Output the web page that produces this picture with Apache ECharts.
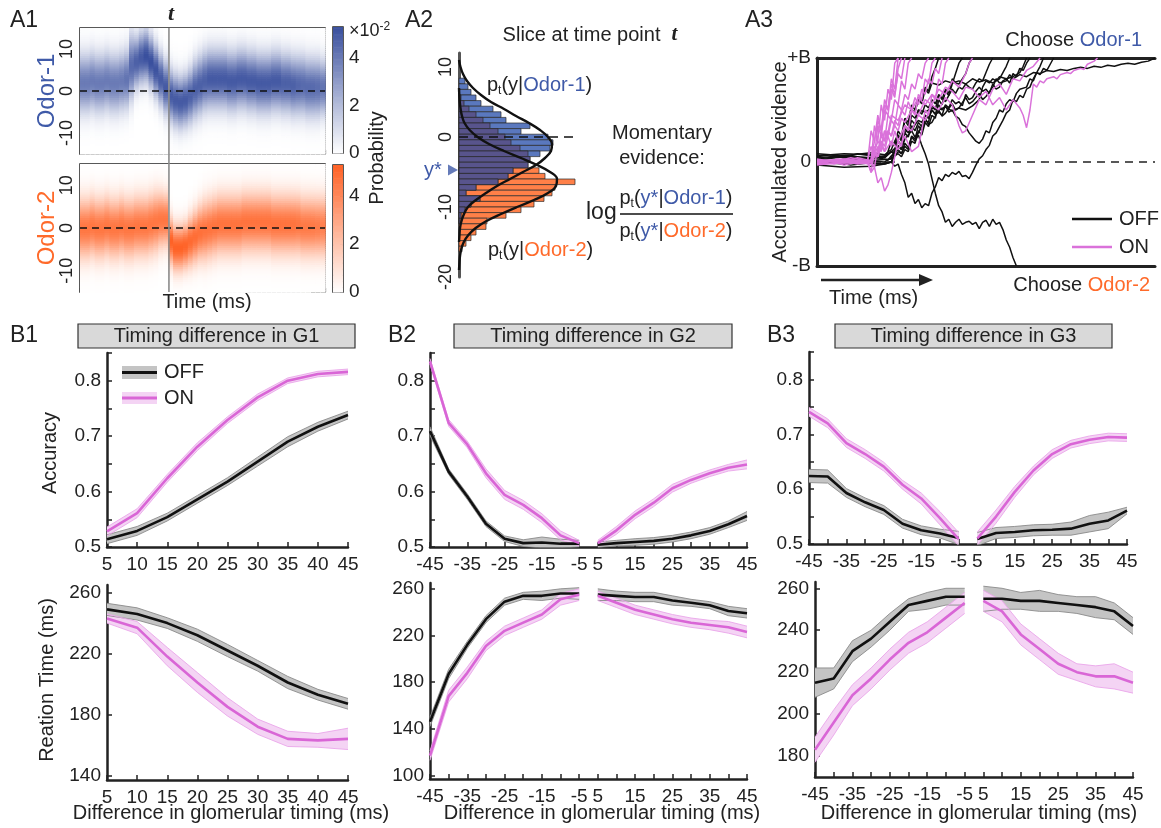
<!DOCTYPE html>
<html><head><meta charset="utf-8">
<script src="https://cdn.jsdelivr.net/npm/echarts@6.0.0/dist/echarts.min.js"></script>
<style>html,body{margin:0;padding:0;background:#fff;}#chart{width:1161px;height:828px;}</style>
</head><body><div id="chart"></div>
<script>
// ================= DATA =================
// A1: per time column (2 ms wide, 50 columns) read centre / spread / peak of the density bands
const a1Center1 = [2,2,2.5,2,2,2.5,2,2,2.5,3, 6,7,8,8.5,7,5,3,1,-1,-2, -2.5,-2,-1,0.5,1.5,2.5,3,3,3,3, 2.5,2.5,3,3,2.5,2.5,2,2,2,2.5, 2.5,2,2,1.5,1.5,1.5,1,1,1,1];
const a1Spread1 = [4.5,4.5,4.5,4.5,4.5,4.5,4.5,4.5,4.5,4.5, 5,4,4,4,4,4,4,4,4,4, 4,4,4.2,4.4,4.5,4.5,4.5,4.5,4.5,4.5, 4.5,4.5,4.5,4.5,4.5,4.5,4.5,4.5,4.5,4.5, 4.5,4.5,4.5,4.5,4.5,4.5,4.5,4.5,4.5,4.2];
const a1Peak1   = [4,4,4,4,4,4,4,4,4,4.2, 4.5,4.8,5,5.3,5.3,5.2,5,5,5,5, 5,5,4.8,4.8,4.8,4.8,5,5,5,5, 5,5,5,5,5,5,5,5,5,5, 5,4.8,4.8,4.8,4.6,4.5,4.5,4.5,4.4,4.2];
const a1Center2 = [0,0,0.5,0,0,0.5,0,0,0.5,0, 0,0.5,0.5,0.5,1,1.5,2,2,-3,-4.5, -4.5,-4,-3,-2,-1,-0.5,0,0.5,1,1, 1,1,1,1.5,1.5,1.5,1.5,1.5,1.5,1, 1,1,1,1,1,0.5,0.5,0.5,0.5,0.5];
const a1Spread2 = [4.5,4.5,4.5,4.5,4.5,4.5,4.5,4.5,4.5,4.5, 4.5,4.5,4.5,4.5,4.5,4.5,4.2,4,3.5,3.5, 3.5,3.5,3.8,4,4.2,4.5,4.5,4.5,4.5,4.5, 4.5,4.5,4.5,4.5,4.5,4.5,4.5,4.5,4.5,4.5, 4.5,4.5,4.5,4.5,4.5,4.5,4.5,4.5,4.5,4.5];
const a1Peak2   = [4.6,4.6,4.6,4.6,4.6,4.6,4.6,4.6,4.6,4.6, 4.6,4.6,4.6,4.6,4.6,4.6,4.6,4.6,5.3,5.3, 5.3,5.2,5,4.9,4.8,4.7,4.7,4.7,4.7,4.7, 4.7,4.7,4.7,4.7,4.7,4.7,4.7,4.7,4.7,4.7, 4.7,4.7,4.7,4.7,4.6,4.5,4.5,4.5,4.4,4.3];
const a1TimePoint = 36.3;
const a1YTicks = [-10, 0, 10];
const a1CbTicks = [0, 2, 4];
const a1CbMax = 5.3;

// A2: histogram bins (centre of each bin) and bar lengths, fitted curves
const a2Bins = [8.0,7.2,6.4,5.6,4.8,4.0,3.2,2.4,1.6,0.8,0.0,-0.8,-1.6,-2.4,-3.2,-4.0,-4.8,-5.6,-6.4,-7.2,-8.0,-8.8,-9.6,-10.4,-11.2,-12.0,-12.8,-13.6,-14.4,-15.2,-16.0];
const a2Odor1 = [6,9,12,17,22,34,42,47,71,62,89,94,91,81,71,69,54,49,39,17,7,21,12,6,2,1,0,0,0,0,0];
const a2Odor2 = [0,0,0,0,0,0,0,0,0,0,0,0,0,0,0,0,80,86,116,96,93,85,75,62,47,28,27,17,12,7,3];
const a2Overlap = [0,0,0,2,5,10,17,24,31,39,46,52,61,69,71,69,54,49,39,17,7,21,12,6,2,1,0,0,0,0,0];
const a2CurveY = [11,10,9,8,7,6,5,4,3,2,1,0,-1,-2,-3,-4,-5,-6,-7,-8,-9,-10,-11,-12,-13,-14,-15,-16,-17,-18,-19];
const a2Fit1 = [0,1.5,4,8,14,22,32,45,57,70,81,89,93,92,86,77,64,51,38,27,17,9,5,2.5,1,0.5,0,0,0,0,0];
const a2Fit2 = [0,0,0,0,0,0.3,0.8,1.6,3,5.5,10.6,18.6,30,45,62,78,91,98,97,89,75,58,42,27.5,16.7,9.4,4.8,2.3,1,0.4,0];
const a2YStar = -4.7;
const a2YTicks = [-20, -10, 0, 10];

// A3: accumulated-evidence traces [time, evidence/B]
const a3Off = [
 [[0,0.05],[4,0.07],[8,0.04],[12,0.08],[16,0.06],[20,0.04],[22,0.1],[24,0.16],[25,0.12],[26,0.22],[28,0.3],[29,0.24],[30,0.28],[32,0.42],[33,0.36],[34,0.38],[36,0.5],[37,0.44],[38,0.47],[40,0.56],[41,0.5],[42,0.52],[44,0.62],[45,0.56],[46,0.58],[48,0.66],[49,0.6],[50,0.63],[52,0.72],[53,0.8],[54,0.76],[56,0.78],[57,0.84],[58,0.8],[60,0.84],[62,0.82],[64,0.86],[66,0.85],[68,0.88],[70,0.87],[72,0.89],[74,0.88],[76,0.9],[78,0.91],[80,0.9],[82,0.92],[84,0.91],[86,0.93],[88,0.92],[90,0.94],[92,0.95],[94,0.94],[96,0.96],[98,0.97],[100,1]],
 [[0,-0.02],[5,0.0],[10,-0.03],[15,-0.01],[20,-0.02],[22,0.0],[23,-0.04],[24,-0.02],[25,-0.12],[26,-0.2],[27,-0.34],[28,-0.3],[29,-0.4],[30,-0.36],[31,-0.44],[32,-0.4],[33,-0.42],[34,-0.3],[35,-0.24],[36,-0.15],[37,-0.18],[38,-0.12],[39,-0.14],[40,-0.1],[41,-0.12],[42,-0.09],[43,-0.14],[44,-0.13],[45,-0.16],[46,-0.1],[47,-0.03],[48,0.03],[49,0.06],[50,0.12],[51,0.16],[52,0.25],[53,0.28],[54,0.34],[55,0.4],[56,0.47],[57,0.5],[58,0.6],[59,0.58],[60,0.64],[61,0.62],[62,0.7],[63,0.72],[64,0.8],[65,0.86],[66,0.92],[67,1]],
 [[0,0.03],[6,0.05],[12,0.02],[18,0.04],[21,0.02],[22,0.06],[24,0.12],[25,0.08],[26,0.18],[27,0.14],[28,0.24],[29,0.2],[30,0.26],[31,0.16],[32,0.08],[33,-0.02],[34,-0.16],[35,-0.3],[36,-0.42],[37,-0.48],[38,-0.58],[39,-0.55],[40,-0.62],[41,-0.58],[42,-0.55],[43,-0.6],[44,-0.58],[45,-0.57],[46,-0.6],[47,-0.58],[48,-0.64],[49,-0.58],[50,-0.56],[51,-0.62],[52,-0.55],[53,-0.6],[54,-0.58],[55,-0.65],[56,-0.75],[57,-0.82],[58,-0.92],[59,-1]],
 [[0,0.02],[8,0.05],[16,0.03],[20,0.06],[22,0.1],[23,0.08],[24,0.2],[25,0.16],[26,0.28],[27,0.24],[28,0.35],[29,0.3],[30,0.38],[31,0.34],[32,0.45],[33,0.42],[34,0.5],[35,0.46],[36,0.55],[37,0.5],[38,0.54],[39,0.48],[40,0.5],[41,0.44],[42,0.42],[43,0.36],[44,0.34],[45,0.28],[46,0.24],[47,0.2],[48,0.18],[49,0.22],[50,0.3],[51,0.28],[52,0.38],[53,0.42],[54,0.5],[55,0.48],[56,0.56],[57,0.6],[58,0.58],[59,0.66],[60,0.7],[62,0.72],[63,0.8],[64,0.78],[65,0.86],[66,0.84],[67,0.9],[68,0.88],[69,0.94],[70,1]],
 [[0,0.04],[8,0.06],[16,0.04],[20,0.05],[21,0.1],[22,0.2],[23,0.16],[24,0.3],[25,0.25],[26,0.42],[27,0.38],[28,0.55],[29,0.5],[30,0.62],[31,0.58],[32,0.72],[33,0.68],[34,0.82],[35,0.9],[36,1]],
 [[0,0.0],[8,-0.02],[16,0.01],[20,0.0],[22,0.04],[23,0.12],[24,0.2],[25,0.16],[26,0.32],[27,0.28],[28,0.4],[29,0.36],[30,0.5],[31,0.46],[32,0.55],[33,0.52],[34,0.6],[35,0.56],[36,0.64],[37,0.62],[38,0.58],[39,0.64],[40,0.7],[41,0.66],[42,0.72],[43,0.7],[44,0.75],[45,0.72],[46,0.7],[47,0.76],[48,0.8],[49,0.78],[50,0.86],[51,0.94],[52,1]],
 [[0,0.06],[8,0.08],[16,0.07],[20,0.05],[22,0.1],[23,0.08],[24,0.15],[25,0.12],[26,0.28],[27,0.32],[28,0.3],[29,0.36],[30,0.4],[31,0.38],[32,0.45],[33,0.42],[34,0.5],[35,0.46],[36,0.48],[37,0.45],[38,0.55],[39,0.52],[40,0.6],[41,0.56],[42,0.58],[43,0.54],[44,0.65],[45,0.6],[46,0.62],[47,0.68],[48,0.72],[49,0.68],[50,0.7],[51,0.66],[52,0.75],[53,0.7],[54,0.72],[55,0.78],[56,0.8],[57,0.76],[58,0.85],[59,0.82],[60,0.9],[61,0.88],[62,0.95],[63,1]],
 [[0,-0.03],[8,-0.05],[16,-0.04],[20,-0.02],[22,0.0],[23,0.06],[24,0.1],[25,0.08],[26,0.15],[27,0.12],[28,0.25],[29,0.22],[30,0.35],[31,0.3],[32,0.4],[33,0.38],[34,0.55],[35,0.5],[36,0.65],[37,0.6],[38,0.7],[39,0.66],[40,0.8],[41,0.76],[42,0.75],[43,0.8],[44,0.85],[45,0.95],[46,1]],
 [[0,0.02],[10,0.0],[18,0.02],[22,0.03],[23,0.06],[24,0.08],[25,0.05],[26,0.12],[27,0.1],[28,0.2],[29,0.18],[30,0.3],[31,0.26],[32,0.38],[33,0.34],[34,0.45],[35,0.42],[36,0.6],[37,0.55],[38,0.68],[39,0.64],[40,0.75],[41,0.85],[42,0.95],[43,1]],
 [[0,0.08],[8,0.06],[16,0.09],[20,0.07],[22,0.12],[23,0.2],[24,0.26],[25,0.22],[26,0.35],[27,0.3],[28,0.45],[29,0.42],[30,0.5],[32,0.48],[34,0.52],[36,0.5],[38,0.53],[40,0.49],[42,0.52],[44,0.5],[46,0.54],[48,0.6],[49,0.72],[50,0.78],[51,0.76],[52,0.8],[53,0.78],[54,0.82],[56,0.8],[58,0.82],[60,0.86],[61,0.92],[62,1]],
 [[0,-0.01],[10,0.01],[18,-0.02],[22,0.0],[23,0.1],[24,0.25],[25,0.2],[26,0.4],[27,0.35],[28,0.5],[29,0.48],[30,0.6],[31,0.56],[32,0.7],[33,0.66],[34,0.76],[36,0.74],[38,0.78],[40,0.76],[42,0.78],[44,0.75],[46,0.8],[48,0.77],[50,0.79],[52,0.76],[54,0.8],[55,0.86],[56,0.92],[57,1]]
];
const a3On = [
 [[0,0.02],[3,0.0],[6,0.03],[9,0.01],[12,0.04],[15,0.02],[16,0.15],[17,0.05],[18,0.35],[19,0.25],[20,0.5],[21,0.45],[22,0.7],[23,0.62],[24,0.9],[25,1]],
 [[0,-0.02],[4,0.01],[8,-0.03],[12,0.0],[15,0.02],[16,-0.1],[17,0.1],[18,0.05],[19,0.3],[20,0.2],[21,0.45],[22,0.4],[23,0.6],[24,0.55],[25,0.78],[26,0.7],[27,0.95],[28,1]],
 [[0,0.01],[5,-0.02],[10,0.02],[15,-0.01],[16,-0.1],[17,-0.05],[18,-0.2],[19,-0.15],[20,-0.28],[21,-0.22],[22,-0.1],[23,0.05],[24,0.2],[25,0.15],[26,0.35],[27,0.3],[28,0.5],[29,0.45],[30,0.65],[31,0.6],[32,0.8],[33,0.75],[34,0.95],[35,1]],
 [[0,0.03],[5,0.0],[10,0.04],[15,0.01],[16,0.3],[17,0.2],[18,0.45],[19,0.3],[20,0.55],[21,0.5],[22,0.75],[23,0.65],[24,0.85],[25,0.8],[26,1]],
 [[0,-0.01],[6,0.02],[12,-0.02],[16,0.0],[17,0.15],[18,0.1],[19,0.2],[20,0.15],[21,0.3],[22,0.25],[23,0.4],[24,0.35],[25,0.5],[26,0.45],[27,0.58],[28,0.5],[29,0.62],[30,0.55],[31,0.7],[32,0.65],[33,0.8],[34,0.75],[35,0.9],[36,0.85],[37,1]],
 [[0,0.0],[8,0.02],[16,0.01],[17,0.1],[18,0.2],[19,0.15],[20,0.3],[21,0.28],[22,0.45],[24,0.4],[26,0.55],[28,0.5],[30,0.62],[32,0.55],[34,0.65],[36,0.6],[38,0.72],[40,0.68],[42,0.6],[44,0.72],[46,0.7],[48,0.62],[50,0.68],[52,0.55],[54,0.62],[56,0.5],[58,0.6],[60,0.52],[61,0.45],[62,0.33],[63,0.5],[64,0.75],[65,0.72],[66,0.78],[67,0.76],[68,0.8],[70,0.82],[71,0.8],[72,0.84],[74,0.86],[75,0.85],[76,0.88],[78,0.9],[79,0.89],[80,0.94],[82,0.97],[83,1]],
 [[0,0.02],[8,-0.01],[16,0.02],[17,0.2],[18,0.4],[19,0.3],[20,0.6],[21,0.5],[22,0.8],[23,0.7],[24,1]],
 [[0,-0.03],[8,0.0],[16,-0.02],[17,0.05],[18,0.1],[19,0.25],[20,0.2],[21,0.3],[22,0.25],[23,0.35],[24,0.3],[25,0.42],[26,0.38],[28,0.5],[30,0.45],[32,0.6],[34,0.55],[36,0.7],[38,0.65],[40,0.78],[42,0.72],[44,0.85],[45,0.95],[46,1]],
 [[0,0.01],[8,0.03],[16,0.0],[17,0.1],[18,0.05],[19,0.2],[20,0.1],[21,0.25],[22,0.15],[23,0.3],[24,0.2],[26,0.35],[28,0.3],[30,0.45],[32,0.4],[34,0.55],[36,0.5],[38,0.62],[40,0.55],[42,0.35],[43,0.28],[44,0.3],[46,0.45],[48,0.6],[50,0.55],[52,0.7],[54,0.75],[56,0.65],[58,0.8],[60,0.78],[62,0.88],[64,0.92],[66,1]],
 [[0,0.0],[16,0.01],[17,0.35],[18,0.2],[19,0.55],[20,0.4],[21,0.7],[22,0.6],[23,0.95],[24,1]],
 [[0,0.02],[16,0.0],[17,-0.05],[18,0.15],[19,0.1],[20,0.3],[21,0.25],[22,0.4],[23,0.35],[24,0.55],[25,0.5],[26,0.65],[27,0.6],[28,0.75],[29,0.7],[30,0.85],[31,0.8],[32,0.95],[33,1]],
 [[0,-0.02],[16,0.0],[17,0.1],[18,0.05],[19,0.15],[20,0.1],[22,0.2],[24,0.12],[26,0.25],[28,0.1],[30,0.15],[31,0.3],[32,0.5],[33,0.45],[34,0.65],[35,0.6],[36,0.8],[37,0.75],[38,0.95],[39,1]]
];
const a3YTicks = [-1, 0, 1];

// B panels
const b1X = ['5','10','15','20','25','30','35','40','45'];
const b1AccOff = [0.514,0.529,0.554,0.586,0.618,0.654,0.690,0.717,0.738];
const b1AccOffErr = [0.008,0.008,0.007,0.007,0.007,0.008,0.009,0.008,0.007];
const b1AccOn = [0.528,0.561,0.624,0.681,0.729,0.770,0.800,0.812,0.816];
const b1AccOnErr = [0.008,0.008,0.007,0.007,0.006,0.006,0.005,0.005,0.005];
const b1RtOff = [249,246,240,232,222,212,201,193,187];
const b1RtOffErr = [4,4,3.5,4,4,3.5,4,3.5,3.5];
const b1RtOn = [243,237,218,201,185,172,164,163,164];
const b1RtOnErr = [3,4,6,6.5,6,5,5,4.5,7];

const b23X = ['-45','-40','-35','-30','-25','-20','-15','-10','-5','5','10','15','20','25','30','35','40','45'];
const b2AccOff = [0.709,0.636,0.591,0.542,0.515,0.507,0.508,0.506,0.506, 0.504,0.507,0.509,0.511,0.515,0.521,0.529,0.541,0.556];
const b2AccOffErr = [0.008,0.005,0.005,0.005,0.005,0.006,0.01,0.008,0.006, 0.005,0.005,0.006,0.006,0.006,0.006,0.006,0.006,0.008];
const b2AccOn = [0.835,0.724,0.685,0.633,0.594,0.576,0.552,0.521,0.507, 0.507,0.530,0.558,0.580,0.606,0.621,0.633,0.643,0.649];
const b2AccOnErr = [0.005,0.006,0.006,0.008,0.008,0.008,0.008,0.008,0.005, 0.005,0.007,0.007,0.007,0.007,0.006,0.006,0.006,0.008];
const b2RtOff = [146,187,212,234,249,254,254,256,256, 255,254,253,253,250,248,246,241,239];
const b2RtOffErr = [4,4,3,3,3,3,4,4,5, 5,4,4,4,4,3,3,4,4];
const b2RtOn = [117,168,188,211,224,231,238,251,255, 254,248,242,238,234,231,229,227,223];
const b2RtOnErr = [4,5,5,4,4,4,4,5,5, 4,4,4,4,4,4,4,5,5];
const b3AccOff = [0.624,0.623,0.593,0.576,0.562,0.537,0.525,0.519,0.511, 0.509,0.520,0.522,0.525,0.526,0.528,0.537,0.543,0.561];
const b3AccOffErr = [0.012,0.012,0.008,0.008,0.008,0.008,0.008,0.008,0.012, 0.012,0.01,0.01,0.01,0.01,0.012,0.015,0.015,0.006];
const b3AccOn = [0.741,0.720,0.684,0.664,0.641,0.608,0.583,0.547,0.509, 0.510,0.550,0.595,0.634,0.664,0.682,0.690,0.695,0.694];
const b3AccOnErr = [0.008,0.008,0.008,0.008,0.008,0.008,0.01,0.012,0.012, 0.012,0.012,0.01,0.008,0.008,0.007,0.007,0.007,0.007];
const b3RtOff = [215,217,230,236,244,252,254,256,256, 255,255,254,254,253,252,251,249,242];
const b3RtOffErr = [7,5,5,4,4,3,4,4,4, 6,5,4,5,4,4,5,4,4];
const b3RtOn = [183,196,209,217,226,234,239,246,253, 254,249,238,231,224,220,218,218,215];
const b3RtOnErr = [6,6,5,5,5,5,5,5,5, 5,5,5,5,5,4,5,6,5];

const accTicks = [0.5,0.55,0.6,0.65,0.7,0.75,0.8,0.85];
const accLabels = [0.5,0.6,0.7,0.8];
const b1RtTicks = [140,180,220,260];
const b2RtTicks = [100,140,180,220,260];
const b3RtTicks = [180,200,220,240,260];

// ================= STYLE =================
const FONT = '"Liberation Sans", Arial, Helvetica, sans-serif';
const SERIF = '"Liberation Serif", "DejaVu Serif", serif';
const TXT = '#222';
const BLUE = '#3f5aa8', ORANGE = '#ff6a2a', MAG = '#d966d6', OFFC = '#111';
const BLUE_RGB = [58,80,158], ORANGE_RGB = [255,98,38];

const grids = [], xAxes = [], yAxes = [], series = [], graphics = [];
function addGrid(l,t,w,h,border){ grids.push({left:l, top:t, width:w, height:h, show:!!border, borderColor:'#222', borderWidth:border||0, backgroundColor:'transparent'}); return grids.length-1; }
function addX(c){ xAxes.push(c); return xAxes.length-1; }
function addY(c){ yAxes.push(c); return yAxes.length-1; }
function hiddenAxis(g,min,max){ return {type:'value', gridIndex:g, min, max, show:false, splitLine:{show:false}}; }
function cmap(rgb,f){ f=Math.max(0,Math.min(1,f)); return 'rgb('+rgb.map(v=>Math.round(255+(v-255)*f)).join(',')+')'; }

// ---------- A1 ----------
function heatData(center, spread, peak){
  const d=[];
  for(let c=0;c<center.length;c++){
    for(let r=0;r<60;r++){
      const y0=-15+0.5*r, ym=y0+0.25;
      const v=peak[c]*Math.exp(-Math.pow(ym-center[c],2)/(2*spread[c]*spread[c]));
      d.push([c*2, c*2+2, y0, y0+0.5, v]);
    }
  }
  return d;
}
function heatItem(rgb){
  return function(p, api){
    const a=api.coord([api.value(0), api.value(3)]);
    const b=api.coord([api.value(1), api.value(2)]);
    return {type:'rect', shape:{x:a[0], y:a[1], width:b[0]-a[0]+0.7, height:b[1]-a[1]+0.7}, style:{fill:cmap(rgb, api.value(4)/a1CbMax)}};
  };
}
function a1Panel(top, h, center, spread, peak, rgb, cbTop, cbH){
  const g = addGrid(80, top, 245, h, 1.5);
  const xi = addX({type:'value', gridIndex:g, min:0, max:100, interval:20, axisLine:{show:false, onZero:false}, axisLabel:{show:false}, axisTick:{show:true, inside:true, length:4, lineStyle:{color:'#222', width:1.2}}, splitLine:{show:false}});
  const yi = addY({type:'value', gridIndex:g, min:-15, max:15, axisLine:{show:false, onZero:false}, axisTick:{show:true, inside:true, length:4, customValues:a1YTicks, lineStyle:{color:'#222', width:1.2}}, axisLabel:{customValues:a1YTicks, rotate:90, fontSize:18, color:TXT, margin:4, fontFamily:FONT}, splitLine:{show:false}});
  series.push({type:'custom', xAxisIndex:xi, yAxisIndex:yi, silent:true, z:1, dimensions:['t0','t1','y0','y1','p'], encode:{x:[0,1], y:[2,3]}, renderItem:heatItem(rgb), data:heatData(center, spread, peak)});
  series.push({type:'line', xAxisIndex:xi, yAxisIndex:yi, silent:true, z:3, symbol:'none', data:[[0,0],[100,0]], lineStyle:{color:'#111', width:1.6, type:[7,5]}});
  // colour bar
  const gc = addGrid(333, cbTop, 10, cbH, 1.5);
  const cx = addX(hiddenAxis(gc,0,1));
  const cy = addY({type:'value', gridIndex:gc, position:'right', min:0, max:a1CbMax, axisLine:{show:false, onZero:false}, axisTick:{show:true, inside:true, length:3, customValues:a1CbTicks, lineStyle:{color:'#222'}}, axisLabel:{customValues:a1CbTicks, fontSize:19, color:TXT, margin:6, fontFamily:FONT}, splitLine:{show:false}});
  const lv=[]; for(let i=0;i<106;i++){ lv.push([i*0.05, i*0.05+0.05]); }
  series.push({type:'custom', xAxisIndex:cx, yAxisIndex:cy, silent:true, dimensions:['lo','hi'], encode:{y:[0,1]}, data:lv, renderItem:function(p,api){ const a=api.coord([0,api.value(1)]), b=api.coord([1,api.value(0)]); return {type:'rect', shape:{x:a[0], y:a[1], width:b[0]-a[0], height:b[1]-a[1]+0.6}, style:{fill:cmap(rgb,(api.value(0)+0.025)/a1CbMax)}}; }});
}
a1Panel(28, 126, a1Center1, a1Spread1, a1Peak1, BLUE_RGB, 27, 126);
a1Panel(164, 128, a1Center2, a1Spread2, a1Peak2, ORANGE_RGB, 165, 127);
// t marker spanning both heat maps
{
  const g = addGrid(80, 28, 245, 264, 0);
  const xi = addX(hiddenAxis(g,0,100)), yi = addY(hiddenAxis(g,0,1));
  series.push({type:'line', xAxisIndex:xi, yAxisIndex:yi, silent:true, z:5, symbol:'none', data:[[a1TimePoint,0],[a1TimePoint,1]], lineStyle:{color:'#8c8c8c', width:1.6}});
}

// ---------- A2 ----------
const A2_BW = 0.8;
{
  const g = addGrid(459, 53, 131, 224, 0);
  const xi = addX({type:'value', gridIndex:g, min:0, max:131, show:false, splitLine:{show:false}});
  const yi = addY({type:'value', gridIndex:g, min:-20, max:12, axisLine:{show:true, onZero:false, lineStyle:{color:'#555', width:3}}, axisTick:{show:false}, axisLabel:{customValues:a2YTicks, rotate:90, fontSize:18, color:TXT, margin:4, fontFamily:FONT}, splitLine:{show:false}});
  function barSeries(vals, fill){
    series.push({type:'custom', xAxisIndex:xi, yAxisIndex:yi, silent:true, z:2, dimensions:['len','bin'], encode:{x:0, y:1},
      data: vals.map((v,i)=>[v, a2Bins[i]]),
      renderItem:function(p,api){ const len=api.value(0), c=api.value(1); if(!(len>0)) return null;
        const a=api.coord([0, c+A2_BW/2]), b=api.coord([len, c-A2_BW/2]);
        return {type:'rect', shape:{x:a[0], y:a[1], width:b[0]-a[0], height:b[1]-a[1]}, style:{fill, stroke:'#2a2a2a', lineWidth:0.7}}; }});
  }
  barSeries(a2Odor2, '#ff8048');
  barSeries(a2Odor1, '#5a78be');
  barSeries(a2Overlap, '#58548c');
  function curve(vals){
    const d=[]; vals.forEach((v,i)=>{ if(v>0 || (i>0 && vals[i-1]>0) || (i<vals.length-1 && vals[i+1]>0)) d.push([v, a2CurveY[i]]); });
    series.push({type:'line', xAxisIndex:xi, yAxisIndex:yi, silent:true, z:4, symbol:'none', smooth:0.4, data:d, lineStyle:{color:'#111', width:2.4}});
  }
  curve(a2Fit1); curve(a2Fit2);
  series.push({type:'line', xAxisIndex:xi, yAxisIndex:yi, silent:true, z:5, symbol:'none', data:[[0,0],[114,0]], lineStyle:{color:'#111', width:1.6, type:[9,6]}});
  series.push({type:'scatter', xAxisIndex:xi, yAxisIndex:yi, silent:true, clip:false, z:6, symbol:'triangle', symbolSize:[11,10], symbolRotate:-90, data:[[-6, a2YStar]], itemStyle:{color:BLUE}});
}

// ---------- A3 ----------
{
  const g = addGrid(817, 58, 338, 208, 0);
  const lineAx = {show:true, onZero:false, lineStyle:{color:'#222', width:3}};
  const xi = addX({type:'value', gridIndex:g, min:0, max:100, position:'bottom', axisLine:lineAx, axisTick:{show:false}, axisLabel:{show:false}, splitLine:{show:false}});
  addX({type:'value', gridIndex:g, min:0, max:100, position:'top', axisLine:lineAx, axisTick:{show:false}, axisLabel:{show:false}, splitLine:{show:false}});
  const yi = addY({type:'value', gridIndex:g, min:-1, max:1, axisLine:lineAx, axisTick:{show:false}, axisLabel:{customValues:a3YTicks, fontSize:19, color:TXT, margin:6, fontFamily:FONT, formatter:function(v){ return v>0?'+B':(v<0?'-B':'0'); }}, splitLine:{show:false}});
  series.push({type:'line', xAxisIndex:xi, yAxisIndex:yi, silent:true, z:1, symbol:'none', data:[[0,0],[100,0]], lineStyle:{color:'#222', width:1.6, type:[8,6]}});
  a3Off.forEach(tr=>series.push({type:'line', xAxisIndex:xi, yAxisIndex:yi, silent:true, z:2, symbol:'none', data:tr, lineStyle:{color:OFFC, width:1.5}}));
  a3On.forEach(tr=>series.push({type:'line', xAxisIndex:xi, yAxisIndex:yi, silent:true, z:3, symbol:'none', data:tr, lineStyle:{color:'#da72da', width:1.5}}));
}

// ---------- B panels ----------
function bPanel(l,t,w,h,cats,labelInt,min,max,tickVals,labelVals){
  const g = addGrid(l,t,w,h,0);
  const xi = addX({type:'category', gridIndex:g, data:cats, boundaryGap:false, axisLine:{show:true, onZero:false, lineStyle:{color:'#222', width:2.5}}, axisTick:{show:true, inside:true, length:5, interval:0, lineStyle:{color:'#222', width:1.5}}, axisLabel:{interval:labelInt, fontSize:19, color:TXT, margin:8, fontFamily:FONT}, splitLine:{show:false}});
  const yi = addY({type:'value', gridIndex:g, min, max, axisLine:{show:true, onZero:false, lineStyle:{color:'#222', width:2.5}}, axisTick:{show:true, inside:true, length:5, customValues:tickVals, lineStyle:{color:'#222', width:1.5}}, axisLabel:{customValues:labelVals, fontSize:19, color:TXT, margin:6, fontFamily:FONT}, splitLine:{show:false}});
  return [xi, yi];
}
function inSeg(i,s){ return i>=s[0] && i<=s[1]; }
function addBand(ax, vals, errs, segs, edge, fill, key){
  segs.forEach((s,si)=>{
    series.push({type:'line', xAxisIndex:ax[0], yAxisIndex:ax[1], silent:true, z:2, symbol:'none', stack:key+si, data:vals.map((v,i)=>inSeg(i,s)?+(v-errs[i]).toFixed(4):'-'), lineStyle:{color:edge, width:0.9}});
    series.push({type:'line', xAxisIndex:ax[0], yAxisIndex:ax[1], silent:true, z:2, symbol:'none', stack:key+si, data:vals.map((v,i)=>inSeg(i,s)?+(2*errs[i]).toFixed(4):'-'), lineStyle:{color:edge, width:0.9}, areaStyle:{color:fill, opacity:1}});
  });
}
function addMean(ax, vals, segs, color){
  segs.forEach(s=>series.push({type:'line', xAxisIndex:ax[0], yAxisIndex:ax[1], silent:true, z:3, symbol:'none', data:vals.map((v,i)=>inSeg(i,s)?v:'-'), lineStyle:{color, width:2.6}}));
}
const OFF_EDGE='#8a8a8a', OFF_FILL='#c4c4c4', ON_EDGE='#eaa6ea', ON_FILL='#f4d4f4';
function fill4(ax, off, offE, on, onE, segs, key){
  addBand(ax, off, offE, segs, OFF_EDGE, OFF_FILL, key+'off');
  addBand(ax, on, onE, segs, ON_EDGE, ON_FILL, key+'on');
  addMean(ax, off, segs, OFFC);
  addMean(ax, on, segs, MAG);
}
const seg1 = [[0,8]], seg2 = [[0,8],[9,17]];
const halfInt = function(idx){ return idx<=8 ? idx%2===0 : idx%2===1; };
{
  const a = bPanel(107,353,241,194,b1X,0,0.5,0.85,accTicks,accLabels); fill4(a,b1AccOff,b1AccOffErr,b1AccOn,b1AccOnErr,seg1,'b1a');
  const b = bPanel(107,585,241,195,b1X,0,137,265,b1RtTicks,b1RtTicks); fill4(b,b1RtOff,b1RtOffErr,b1RtOn,b1RtOnErr,seg1,'b1r');
  const c = bPanel(430,353,317,194,b23X,halfInt,0.5,0.85,accTicks,accLabels); fill4(c,b2AccOff,b2AccOffErr,b2AccOn,b2AccOnErr,seg2,'b2a');
  const d = bPanel(430,583,317,196,b23X,halfInt,97,265,b2RtTicks,b2RtTicks); fill4(d,b2RtOff,b2RtOffErr,b2RtOn,b2RtOnErr,seg2,'b2r');
  const e = bPanel(809,352,318,192,b23X,halfInt,0.5,0.85,accTicks,accLabels); fill4(e,b3AccOff,b3AccOffErr,b3AccOn,b3AccOnErr,seg2,'b3a');
  const f = bPanel(815,582,318,195,b23X,halfInt,170,263,b3RtTicks,b3RtTicks); fill4(f,b3RtOff,b3RtOffErr,b3RtOn,b3RtOnErr,seg2,'b3r');
}

// ================= TEXT / DECORATION =================
function txt(x,y,text,o){
  o=o||{};
  graphics.push({type:'text', x, y, rotation:o.rot||0, silent:true, z:100, style:Object.assign({text, fontFamily:FONT, fontSize:20, fill:TXT, align:'left', verticalAlign:'middle'}, o.style||{})});
}
function ln(x1,y1,x2,y2,stroke,w){ graphics.push({type:'line', silent:true, z:100, shape:{x1,y1,x2,y2}, style:{stroke, lineWidth:w}}); }
function rc(x,y,w,h,fill,stroke,lw){ graphics.push({type:'rect', silent:true, z:99, shape:{x,y,width:w,height:h}, style:{fill, stroke:stroke||null, lineWidth:lw||0}}); }
const R = Math.PI/2;
// panel labels
[['A1',10,21],['A2',405,21],['A3',745,21],['B1',10,336],['B2',388,336],['B3',767,336]].forEach(p=>txt(p[1],p[2],p[0],{style:{fontSize:23}}));
// A1
txt(171,14,'t',{style:{align:'center', fontFamily:SERIF, fontStyle:'italic', fontWeight:'bold', fontSize:22}});
txt(47,91,'Odor-1',{rot:R, style:{align:'center', fontSize:24, fill:BLUE}});
txt(47,228,'Odor-2',{rot:R, style:{align:'center', fontSize:24, fill:ORANGE}});
txt(377,158,'Probability',{rot:R, style:{align:'center'}});
txt(349,31,'{a|×10}{s|-2}',{style:{rich:{a:{fontSize:18, fontFamily:FONT, fill:TXT, lineHeight:20}, s:{fontSize:12, fontFamily:FONT, fill:TXT, lineHeight:12, verticalAlign:'top'}}}});
txt(207,302,'Time (ms)',{style:{align:'center'}});
// A2
const richBase = {a:{fontSize:20, fontFamily:FONT, fill:TXT, lineHeight:24}, s:{fontSize:12, fontFamily:FONT, fill:TXT, lineHeight:12, verticalAlign:'bottom'}, b:{fontSize:20, fontFamily:FONT, fill:BLUE, lineHeight:24}, o:{fontSize:20, fontFamily:FONT, fill:ORANGE, lineHeight:24}, t:{fontSize:21, fontFamily:SERIF, fontStyle:'italic', fontWeight:'bold', fill:TXT, lineHeight:24}};
txt(590,35,'{a|Slice at time point  }{t|t}',{style:{align:'center', rich:richBase}});
txt(487,85,'{a|p}{s|t}{a|(y|}{b|Odor-1}{a|)}',{style:{rich:richBase}});
txt(488,250,'{a|p}{s|t}{a|(y|}{o|Odor-2}{a|)}',{style:{rich:richBase}});
txt(662,133,'Momentary',{style:{align:'center'}});
txt(662,158,'evidence:',{style:{align:'center'}});
txt(586,213,'log',{style:{fontSize:23}});
txt(676,198,'{a|p}{s|t}{a|(}{b|y*}{a||}{b|Odor-1}{a|)}',{style:{align:'center', rich:richBase}});
txt(676,231,'{a|p}{s|t}{a|(}{b|y*}{a||}{o|Odor-2}{a|)}',{style:{align:'center', rich:richBase}});
ln(620,214,733,214,'#111',1.5);
txt(433,170,'y*',{style:{align:'center', fill:BLUE}});
// A3
txt(1142,40,'{a|Choose }{b|Odor-1}',{style:{align:'right', rich:richBase}});
txt(1150,285,'{a|Choose }{o|Odor-2}',{style:{align:'right', rich:richBase}});
txt(829,298,'Time (ms)');
ln(821,280,922,280,'#222',2.5);
graphics.push({type:'polygon', silent:true, z:100, shape:{points:[[933,280],[919,274],[919,286]]}, style:{fill:'#222'}});
txt(780,162,'Accumulated evidence',{rot:R, style:{align:'center'}});
ln(1072,219,1112,219,OFFC,2.5); txt(1119,219,'OFF');
ln(1072,247,1112,247,'#da72da',2.5); txt(1119,247,'ON');
// B titles
[['Timing difference in G1',78,355],['Timing difference in G2',454,732],['Timing difference in G3',835,1112]].forEach(b=>{
  rc(b[1],324,b[2]-b[1],24,'#d9d9d9','#333',1.2);
  txt((b[1]+b[2])/2,336.5,b[0],{style:{align:'center'}});
});
// B1 legend
rc(122,366,35,13,OFF_FILL,null,0); ln(122,372.5,157,372.5,OFFC,3); txt(164,372.5,'OFF');
rc(122,392,35,12,ON_FILL,null,0); ln(122,398,157,398,MAG,3); txt(164,398,'ON');
// axis names
txt(50,453,'Accuracy',{rot:R, style:{align:'center'}});
txt(47,680,'Reation Time (ms)',{rot:R, style:{align:'center'}});
txt(231,813,'Difference in glomerular timing (ms)',{style:{align:'center'}});
txt(602,813,'Difference in glomerular timing (ms)',{style:{align:'center'}});
txt(979,813,'Difference in glomerular timing (ms)',{style:{align:'center'}});

const chart = echarts.init(document.getElementById('chart'), null, {renderer:'canvas', width:1161, height:828});
chart.setOption({animation:false, backgroundColor:'#fff', textStyle:{fontFamily:FONT, color:TXT}, grid:grids, xAxis:xAxes, yAxis:yAxes, series, graphic:{elements:graphics}});
</script></body></html>
